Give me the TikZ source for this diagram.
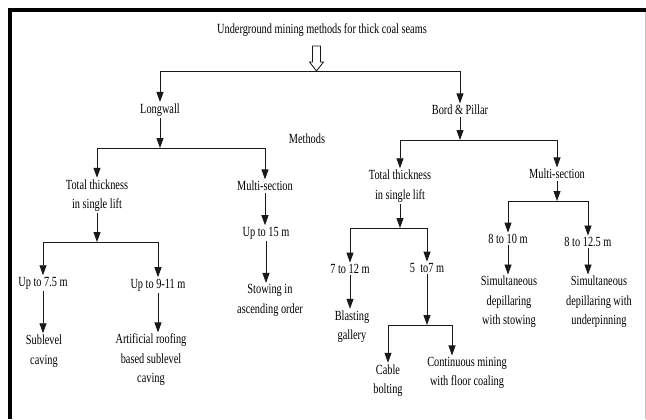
\documentclass[tikz,border=0pt]{standalone}
\usepackage{fontspec}
\setmainfont{Liberation Serif}[FakeStretch=0.74]
\usetikzlibrary{arrows.meta}
\begin{document}
\begin{tikzpicture}[x=1bp,y=-1bp,
  lbl/.style={font=\fontsize{14}{19.5}\selectfont, align=center, inner sep=1.5bp},
  arr/.style={draw=black!90, line width=0.85bp, -{Triangle[width=7bp,length=10bp]}},
  ln/.style={draw=black!90, line width=0.85bp}]
\useasboundingbox (0,0) rectangle (646,419);
\fill[white] (0,0) rectangle (646,419);
\draw[line width=4bp] (8,10) -- (646,10);
\draw[line width=4bp] (10,8) -- (10,419);
\draw[black!25, line width=0.6bp] (645,12) -- (645,419);

% nodes
\node[lbl] (title) at (322,30) {Underground mining methods for thick coal seams};
\node[lbl] (lw) at (160,110) {Longwall};
\node[lbl] (bp) at (460,110) {Bord \& Pillar};
\node[lbl] (meth) at (307,139) {Methods};
\node[lbl] (ltt) at (97,195.5) {Total thickness\\in single lift};
\node[lbl] (lms) at (265,186) {Multi-section};
\node[lbl] (rtt) at (400,186) {Total thickness\\in single lift};
\node[lbl] (rms) at (557,174) {Multi-section};
\node[lbl] (u75) at (43,283) {Up to 7.5 m};
\node[lbl] (u911) at (158,285) {Up to 9-11 m};
\node[lbl] (slc) at (44,351) {Sublevel\\caving};
\node[lbl] (arf) at (151,360) {Artificial roofing\\based sublevel\\caving};
\node[lbl] (u15) at (266,233) {Up to 15 m};
\node[lbl] (sto) at (270,300.5) {Stowing in\\ascending order};
\node[lbl] (t712) at (350,269) {7 to 12 m};
\node[lbl] (t57) at (427,268) {5\ \ to7 m};
\node[lbl] (bg) at (352,326.5) {Blasting\\gallery};
\node[lbl] (cb) at (388,380.5) {Cable\\bolting};
\node[lbl] (cm) at (467,373) {Continuous mining\\with floor coaling};
\node[lbl] (t810) at (508,239) {8 to 10 m};
\node[lbl] (t8125) at (588,242) {8 to 12.5 m};
\node[lbl] (sds) at (509,302) {Simultaneous\\depillaring\\with stowing};
\node[lbl] (sdu) at (599,302) {Simultaneous\\depillaring with\\underpinning};

% hollow arrow
\draw[ln, fill=white] (312.5,46) -- (320.5,46) -- (320.5,62) -- (323.5,62) -- (316.5,71) -- (309.5,62) -- (312.5,62) -- cycle;
\coordinate (hat) at (316.5,71);
\draw[arr] (hat) -| (lw.north);
\draw[arr] (hat) -| (bp.north);

% Longwall
\coordinate (lwb) at (160,148);
\draw[arr] (lw.south) -- (lwb);
\draw[arr] (lwb) -| (ltt.north);
\draw[arr] (lwb) -| (lms.north);

\coordinate (lttb) at (97,242);
\draw[arr] (ltt.south) -- (lttb);
\draw[arr] (lttb) -| (u75.north);
\draw[arr] (lttb) -| (u911.north);
\draw[arr] (u75.south) -- (u75.south |- slc.north);
\draw[arr] (u911.south) -- (u911.south |- arf.north);

\draw[arr] (lms.south) -- (lms.south |- u15.north);
\draw[arr] (u15.south) -- (u15.south |- sto.north);

% Bord & Pillar
\coordinate (bpb) at (460,140);
\draw[arr] (bp.south) -- (bpb);
\draw[arr] (bpb) -| (rtt.north);
\draw[arr] (bpb) -| (rms.north);

\coordinate (rttb) at (400,228);
\draw[arr] (rtt.south) -- (rttb);
\draw[arr] (rttb) -| (t712.north);
\draw[arr] (rttb) -| (t57.north);
\draw[arr] (t712.south) -- (t712.south |- bg.north);

\coordinate (t57b) at (428,325);
\coordinate (cmt) at (452,325);
\draw[arr] (t57.south) -- (t57.south |- t57b);
\draw[arr] (t57b) -| (cb.north);
\draw[ln] (t57b) -- (cmt);
\draw[arr] (cmt) -- (cmt |- cm.north);

\coordinate (rmsb) at (557,201);
\draw[arr] (rms.south) -- (rmsb);
\draw[arr] (rmsb) -| (t810.north);
\draw[arr] (rmsb) -| (t8125.north);
\draw[arr] (t810.south) -- (t810.south |- sds.north);
\draw[arr] (t8125.south) -- (t8125.south |- sdu.north);
\end{tikzpicture}
\end{document}
